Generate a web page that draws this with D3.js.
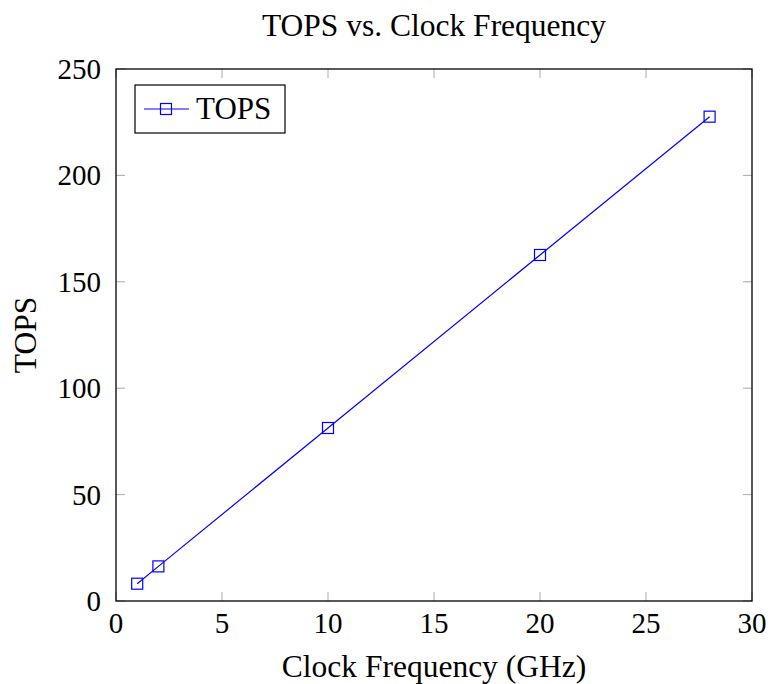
<!DOCTYPE html>
<html>
<head>
<meta charset="utf-8">
<script src="https://cdn.jsdelivr.net/npm/d3@7"></script>
<style>
  body { margin: 0; background: #fff; }
  svg { font-family: "Liberation Serif", "Times New Roman", serif; }
</style>
</head>
<body>
<svg id="chart" width="773" height="684"></svg>
<script>
const clockGHz = [1, 2, 10, 20, 28];
const tops = [8.13, 16.26, 81.3, 162.6, 227.6];
const xTicks = [0, 5, 10, 15, 20, 25, 30];
const yTicks = [0, 50, 100, 150, 200, 250];

const margens = { left: 116, right: 21, top: 69, bottom: 83 };
const svg = d3.select('#chart');
const width = 773 - margens.left - margens.right;
const height = 684 - margens.top - margens.bottom;

const x = d3.scaleLinear().domain([0, 30]).range([0, width]);
const y = d3.scaleLinear().domain([0, 250]).range([height, 0]);

const group = svg.append('g')
    .attr('transform', `translate(${margens.left}, ${margens.top})`);

// ticks pointing inward, mirrored on all sides
const tickLen = 9;
const tickColor = '#aaa';
group.selectAll('.xt').data(xTicks).enter().append('g').each(function (d) {
    const g = d3.select(this);
    g.append('line').attr('x1', x(d)).attr('x2', x(d)).attr('y1', height).attr('y2', height - tickLen)
        .attr('stroke', tickColor).attr('stroke-width', 1);
    g.append('line').attr('x1', x(d)).attr('x2', x(d)).attr('y1', 0).attr('y2', tickLen)
        .attr('stroke', tickColor).attr('stroke-width', 1);
});
group.selectAll('.yt').data(yTicks).enter().append('g').each(function (d) {
    const g = d3.select(this);
    g.append('line').attr('x1', 0).attr('x2', tickLen).attr('y1', y(d)).attr('y2', y(d))
        .attr('stroke', tickColor).attr('stroke-width', 1);
    g.append('line').attr('x1', width).attr('x2', width - tickLen).attr('y1', y(d)).attr('y2', y(d))
        .attr('stroke', tickColor).attr('stroke-width', 1);
});

// tick labels
group.selectAll('.xl').data(xTicks).enter().append('text')
    .attr('x', d => x(d)).attr('y', height + 32)
    .attr('text-anchor', 'middle').attr('font-size', 29).text(d => d);
group.selectAll('.yl').data(yTicks).enter().append('text')
    .attr('x', -15).attr('y', d => y(d) + 10)
    .attr('text-anchor', 'end').attr('font-size', 29).text(d => d);

// frame
group.append('rect').attr('width', width).attr('height', height)
    .attr('fill', 'none').attr('stroke', '#000').attr('stroke-width', 1.3);

// series
const line = d3.line().x((d, i) => x(clockGHz[i])).y(d => y(d));
group.append('path').datum(tops).attr('d', line)
    .attr('fill', 'none').attr('stroke', '#0000ff').attr('stroke-width', 1.2);
const ms = 11;
group.selectAll('.pt').data(tops).enter().append('rect')
    .attr('x', (d, i) => x(clockGHz[i]) - ms / 2).attr('y', d => y(d) - ms / 2)
    .attr('width', ms).attr('height', ms)
    .attr('fill', 'none').attr('stroke', '#0000ff').attr('stroke-width', 1.2);

// legend
const lg = svg.append('g');
lg.append('rect').attr('x', 135).attr('y', 85).attr('width', 150).attr('height', 48)
    .attr('fill', '#fff').attr('stroke', '#000').attr('stroke-width', 1.2);
lg.append('line').attr('x1', 144).attr('x2', 189).attr('y1', 109).attr('y2', 109)
    .attr('stroke', '#0000ff').attr('stroke-width', 1.2);
lg.append('rect').attr('x', 166 - ms / 2).attr('y', 109 - ms / 2).attr('width', ms).attr('height', ms)
    .attr('fill', 'none').attr('stroke', '#0000ff').attr('stroke-width', 1.2);
lg.append('text').attr('x', 196).attr('y', 119).attr('font-size', 31).text('TOPS');

// titles
svg.append('text').attr('x', margens.left + width / 2).attr('y', 36)
    .attr('text-anchor', 'middle').attr('font-size', 31.5).text('TOPS vs. Clock Frequency');
svg.append('text').attr('x', margens.left + width / 2).attr('y', 677)
    .attr('text-anchor', 'middle').attr('font-size', 31.5).text('Clock Frequency (GHz)');
svg.append('text').attr('transform', `translate(36, ${margens.top + height / 2}) rotate(-90)`)
    .attr('text-anchor', 'middle').attr('font-size', 31.5).text('TOPS');
</script>
</body>
</html>
